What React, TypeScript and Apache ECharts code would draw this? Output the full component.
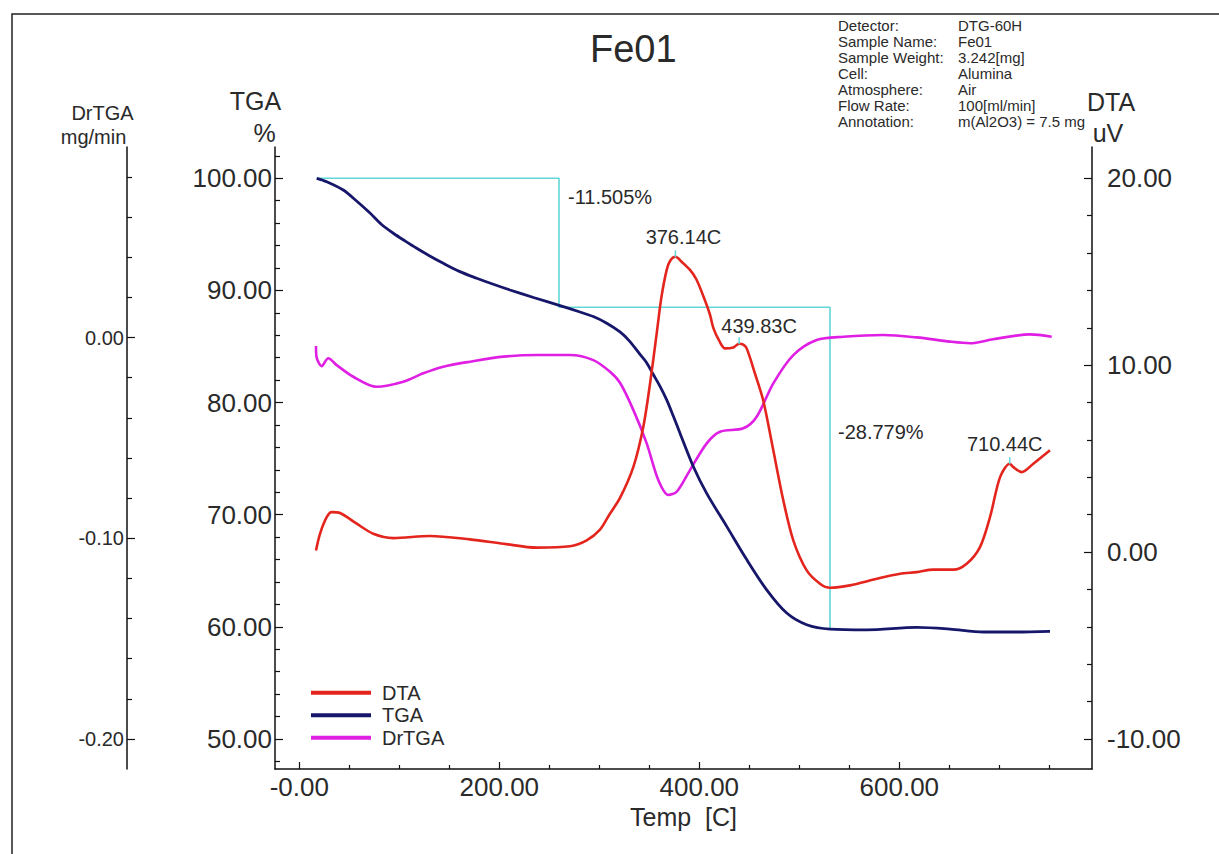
import React, { useEffect, useRef } from "react";
import * as echarts from "echarts";

// ---------- data ----------
const tgaT = [17.4, 27.4, 44, 57, 70.7, 82, 94, 106, 117.4, 130, 144, 160, 177.4, 194, 210.7, 235, 260.7, 280, 294, 307, 320.7, 330, 340.7, 347, 354, 361, 367.4, 374, 380.7, 394, 407.4, 427.4, 447.4, 467.4, 487.4, 507.4, 530.7, 567.4, 617.4, 650.7, 684, 717.4, 750.7];
const tgaV = [100.0, 99.7, 98.96, 98.0, 96.9, 95.9, 95.1, 94.4, 93.76, 93.1, 92.42, 91.7, 91.09, 90.55, 90.04, 89.35, 88.65, 88.1, 87.67, 87.1, 86.3, 85.5, 84.3, 83.6, 82.5, 81.4, 80.24, 78.8, 77.27, 74.3, 71.9, 68.96, 66.0, 63.3, 61.23, 60.19, 59.8, 59.74, 59.95, 59.8, 59.54, 59.54, 59.6];

const dtaT = [16.7, 20.7, 27.4, 32.4, 40.7, 57.4, 74, 94, 130.7, 170.7, 204, 237.4, 270.7, 287.4, 300.7, 310, 320.7, 334, 344, 350.7, 357.4, 362, 367.4, 371, 376.14, 383, 390.7, 397, 404, 410.7, 414, 420, 425.7, 434, 439.83, 444, 447.4, 455.7, 464, 474, 484, 494, 507.4, 520.7, 530.7, 550.7, 577.4, 600.7, 617.4, 634, 654, 667.4, 680.7, 690.7, 700.7, 710.44, 714, 722.4, 734, 750.7];
const dtaV = [0.09, 0.98, 1.87, 2.14, 2.09, 1.52, 0.98, 0.75, 0.86, 0.68, 0.45, 0.24, 0.31, 0.63, 1.2, 2.0, 2.9, 4.55, 6.7, 9.0, 11.7, 13.6, 15.1, 15.6, 15.8, 15.5, 15.1, 14.6, 13.7, 12.7, 12.0, 11.3, 10.9, 10.95, 11.15, 11.1, 10.9, 9.55, 8.1, 5.45, 2.77, 0.63, -0.98, -1.69, -1.91, -1.78, -1.43, -1.16, -1.07, -0.94, -0.94, -0.62, 0.27, 1.87, 4.0, 4.73, 4.55, 4.28, 4.73, 5.45];

const drT = [16.7, 17.2, 22.4, 29, 37.4, 54, 77.4, 104, 124, 144, 170.7, 204, 237.4, 270.7, 294, 310.7, 320.7, 334, 347.4, 359, 369, 377.4, 390.7, 407.4, 420.7, 444, 457.4, 474, 494, 517.4, 544, 584, 617.4, 650.7, 670.7, 694, 730.7, 752.4];
const drV = [-0.0042, -0.0095, -0.0142, -0.0103, -0.0137, -0.0195, -0.0245, -0.022, -0.0178, -0.0145, -0.012, -0.0095, -0.0087, -0.0087, -0.0112, -0.017, -0.0225, -0.036, -0.0527, -0.071, -0.0784, -0.0768, -0.066, -0.0527, -0.0469, -0.0452, -0.0394, -0.0228, -0.0087, -0.0012, 0.0004, 0.0013, 0.0001, -0.002, -0.0028, -0.0008, 0.0016, 0.0004];

const stepT = [17.4, 259.7, 259.7, 530.7, 530.7];
const stepV = [100, 100, 88.495, 88.495, 59.716];

const stepLabels = [
  { text: "-11.505%", t: 268.7, v: 98.36 },
  { text: "-28.779%", t: 538.7, v: 77.42 },
];
const peaks = [
  { name: "376.14C", t: 376.14, v: 15.8, dx: 8, dy: -20 },
  { name: "439.83C", t: 439.83, v: 11.15, dx: 20, dy: -18 },
  { name: "710.44C", t: 710.44, v: 4.73, dx: -5, dy: -20 },
];

const xMajor = [0, 200, 400, 600];
const xMinor = [50, 100, 150, 250, 300, 350, 450, 500, 550, 650, 700, 750];
const tgaMajor = [50, 60, 70, 80, 90, 100];
const tgaMinor = [48, 52, 54, 56, 58, 62, 64, 66, 68, 72, 74, 76, 78, 82, 84, 86, 88, 92, 94, 96, 98, 102];
const dtaMajor = [-10, 0, 10, 20];
const dtaMinor = [-8, -6, -4, -2, 2, 4, 6, 8, 12, 14, 16, 18];
const drMajor = [-0.2, -0.1, 0];
const drMinor = [-0.18, -0.16, -0.14, -0.12, -0.08, -0.06, -0.04, -0.02, 0.02, 0.04, 0.06, 0.08];

const infoLabels = ["Detector:", "Sample Name:", "Sample Weight:", "Cell:", "Atmosphere:", "Flow Rate:", "Annotation:"];
const infoValues = ["DTG-60H", "Fe01", "3.242[mg]", "Alumina", "Air", "100[ml/min]", "m(Al2O3) = 7.5 mg"];

const FONT = "'Liberation Sans', Arial, sans-serif";
const TXT = "#2a2a2a";
const AX = "#111";
const CYAN = "#62d6d8";

const zip = (a: number[], b: number[]) => a.map((x, i) => [x, b[i]]);

export default function App() {
  const ref = useRef<HTMLDivElement>(null);
  useEffect(() => {
    if (!ref.current) return;
    const chart = echarts.init(ref.current, null, { renderer: "svg" });
    const axisLine = { show: true, onZero: false, lineStyle: { color: AX, width: 1.5 } };
    const noLine = { show: false, onZero: false };
    const noSplit = { show: false };
    const fmt2 = (v: number) => (Math.abs(v) < 1e-9 ? "0.00" : v.toFixed(2));
    const X = { min: -24.3, max: 792.7 };
    const TG = { min: 47.325, max: 102.791 };
    const DT = { min: -11.605, max: 21.675 };
    const DR = { min: -0.21495, max: 0.09497 };

    const option: any = {
      animation: false,
      backgroundColor: "#ffffff",
      title: {
        text: "Fe01",
        left: 590,
        top: 30,
        padding: 0,
        textStyle: { fontSize: 38, fontWeight: "normal", color: TXT, fontFamily: FONT },
      },
      legend: {
        data: ["DTA", "TGA", "DrTGA"],
        orient: "vertical",
        left: 311,
        top: 682.7,
        padding: 0,
        itemGap: 2.5,
        itemWidth: 60,
        itemHeight: 4,
        icon: "rect",
        textStyle: { fontSize: 20, color: TXT, fontFamily: FONT, lineHeight: 20, padding: [0, 0, 0, 6] },
      },
      grid: { left: 275, top: 147, width: 817, height: 622, containLabel: false },
      xAxis: [
        {
          type: "value",
          ...X,
          position: "bottom",
          axisLine,
          splitLine: noSplit,
          axisTick: { show: true, inside: true, length: 7, customValues: xMajor, lineStyle: { color: AX, width: 1.2 } },
          axisLabel: {
            show: true,
            customValues: xMajor,
            margin: 5,
            fontSize: 26,
            color: TXT,
            fontFamily: FONT,
            formatter: (v: number) => (v === 0 ? "-0.00" : v.toFixed(2)),
          },
          name: "Temp  [C]",
          nameLocation: "middle",
          nameGap: 34,
          nameTextStyle: { fontSize: 25, color: TXT, fontFamily: FONT },
        },
        {
          type: "value",
          ...X,
          position: "bottom",
          axisLine: noLine,
          splitLine: noSplit,
          axisTick: { show: true, inside: true, length: 4, customValues: xMinor, lineStyle: { color: AX, width: 1.2 } },
          axisLabel: { show: false },
        },
      ],
      yAxis: [
        {
          type: "value",
          ...TG,
          position: "left",
          axisLine,
          splitLine: noSplit,
          axisTick: { show: true, inside: true, length: 8, customValues: tgaMajor, lineStyle: { color: AX, width: 1.2 } },
          axisLabel: { show: true, customValues: tgaMajor, margin: 3, fontSize: 26, color: TXT, fontFamily: FONT, formatter: fmt2 },
        },
        {
          type: "value",
          ...TG,
          position: "left",
          axisLine: noLine,
          splitLine: noSplit,
          axisTick: { show: true, inside: true, length: 5, customValues: tgaMinor, lineStyle: { color: AX, width: 1.2 } },
          axisLabel: { show: false },
        },
        {
          type: "value",
          ...DT,
          position: "right",
          axisLine,
          splitLine: noSplit,
          axisTick: { show: true, inside: true, length: 8, customValues: dtaMajor, lineStyle: { color: AX, width: 1.2 } },
          axisLabel: { show: true, customValues: dtaMajor, margin: 15, fontSize: 26, color: TXT, fontFamily: FONT, formatter: fmt2 },
        },
        {
          type: "value",
          ...DT,
          position: "right",
          axisLine: noLine,
          splitLine: noSplit,
          axisTick: { show: true, inside: true, length: 5, customValues: dtaMinor, lineStyle: { color: AX, width: 1.2 } },
          axisLabel: { show: false },
        },
        {
          type: "value",
          ...DR,
          position: "left",
          offset: 148,
          axisLine,
          splitLine: noSplit,
          axisTick: { show: true, inside: true, length: 8, customValues: drMajor, lineStyle: { color: AX, width: 1.2 } },
          axisLabel: { show: true, customValues: drMajor, margin: 3, fontSize: 20, color: TXT, fontFamily: FONT, formatter: fmt2 },
        },
        {
          type: "value",
          ...DR,
          position: "left",
          offset: 148,
          axisLine: noLine,
          splitLine: noSplit,
          axisTick: { show: true, inside: true, length: 5, customValues: drMinor, lineStyle: { color: AX, width: 1.2 } },
          axisLabel: { show: false },
        },
      ],
      series: [
        {
          name: "step",
          type: "line",
          xAxisIndex: 0,
          yAxisIndex: 0,
          data: zip(stepT, stepV),
          symbol: "none",
          lineStyle: { color: CYAN, width: 1.6 },
          itemStyle: { color: CYAN },
          z: 1,
          markPoint: {
            symbol: "circle",
            symbolSize: 0,
            silent: true,
            itemStyle: { color: "transparent" },
            label: { show: true, position: "inside", align: "left", color: TXT, fontSize: 20, fontFamily: FONT, formatter: "{b}" },
            data: stepLabels.map((s) => ({ name: s.text, coord: [s.t, s.v] })),
          },
        },
        {
          name: "DrTGA",
          type: "line",
          xAxisIndex: 0,
          yAxisIndex: 4,
          data: zip(drT, drV),
          symbol: "none",
          smooth: 0.3,
          color: "#e01fe4",
          lineStyle: { color: "#e01fe4", width: 2.6 },
          z: 2,
        },
        {
          name: "TGA",
          type: "line",
          xAxisIndex: 0,
          yAxisIndex: 0,
          data: zip(tgaT, tgaV),
          symbol: "none",
          smooth: 0.3,
          color: "#16166a",
          lineStyle: { color: "#16166a", width: 2.8 },
          z: 3,
        },
        {
          name: "DTA",
          type: "line",
          xAxisIndex: 0,
          yAxisIndex: 2,
          data: zip(dtaT, dtaV),
          symbol: "none",
          smooth: 0.3,
          color: "#e3251d",
          lineStyle: { color: "#e3251d", width: 2.6 },
          z: 4,
          markPoint: {
            symbol: "rect",
            symbolSize: [1.5, 7],
            symbolOffset: [0, -3],
            silent: true,
            itemStyle: { color: CYAN },
            data: peaks.map((p) => ({
              name: p.name,
              coord: [p.t, p.v],
              label: {
                show: true,
                position: "inside",
                offset: [p.dx, p.dy + 3],
                color: TXT,
                fontSize: 20,
                fontFamily: FONT,
                formatter: "{b}",
              },
            })),
          },
        },
      ],
      graphic: [
        {
          type: "rect",
          silent: true,
          shape: { x: 12, y: 14, width: 1400, height: 1000 },
          style: { fill: "none", stroke: "#222", lineWidth: 1.5 },
        },
        {
          type: "text",
          silent: true,
          x: 838,
          y: 17,
          style: { text: infoLabels.join("\n"), fontSize: 15, lineHeight: 16.1, fill: TXT, fontFamily: FONT, align: "left", verticalAlign: "top" },
        },
        {
          type: "text",
          silent: true,
          x: 958,
          y: 17,
          style: { text: infoValues.join("\n"), fontSize: 15, lineHeight: 16.1, fill: TXT, fontFamily: FONT, align: "left", verticalAlign: "top" },
        },
        { type: "text", silent: true, x: 255.5, y: 101, style: { text: "TGA", fontSize: 25, fill: TXT, fontFamily: FONT, align: "center", verticalAlign: "middle" } },
        { type: "text", silent: true, x: 264.5, y: 133, style: { text: "%", fontSize: 25, fill: TXT, fontFamily: FONT, align: "center", verticalAlign: "middle" } },
        { type: "text", silent: true, x: 102.5, y: 113, style: { text: "DrTGA", fontSize: 20, fill: TXT, fontFamily: FONT, align: "center", verticalAlign: "middle" } },
        { type: "text", silent: true, x: 93.5, y: 137, style: { text: "mg/min", fontSize: 20, fill: TXT, fontFamily: FONT, align: "center", verticalAlign: "middle" } },
        { type: "text", silent: true, x: 1111, y: 102, style: { text: "DTA", fontSize: 25, fill: TXT, fontFamily: FONT, align: "center", verticalAlign: "middle" } },
        { type: "text", silent: true, x: 1108, y: 133, style: { text: "uV", fontSize: 25, fill: TXT, fontFamily: FONT, align: "center", verticalAlign: "middle" } },
      ],
    };
    chart.setOption(option);
    return () => chart.dispose();
  }, []);
  return (
    <div
      ref={ref}
      style={{ position: "absolute", left: 0, top: 0, width: 1219, height: 854, background: "#fff" }}
    />
  );
}
